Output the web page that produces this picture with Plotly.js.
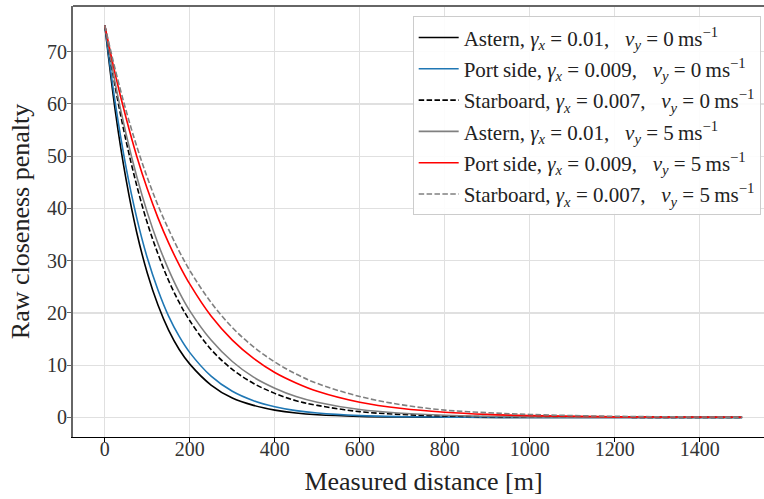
<!DOCTYPE html>
<html>
<head>
<meta charset="utf-8">
<script src="https://cdn.plot.ly/plotly-3.0.1.min.js"></script>
<style>
html, body { margin: 0; padding: 0; overflow: hidden; background: #fff; width: 764px; height: 499px; }
#chart { width: 800px; height: 499px; }
</style>
</head>
<body>
<div id="chart"></div>
<script>
// Measured distance [m] sample positions
const distance = [0, 25, 50, 75, 100, 125, 150, 175, 200, 250, 300, 350, 400, 450, 500, 600, 700, 800, 900, 1000, 1200, 1500];

// Raw closeness penalty
const asternV0    = [75, 58.4, 45.5, 35.4, 27.6, 21.5, 16.7, 13.0, 10.2, 6.2, 3.7, 2.3, 1.4, 0.83, 0.5, 0.19, 0.07, 0.03, 0.01, 0, 0, 0];
const portV0      = [75, 59.9, 47.8, 38.2, 30.5, 24.4, 19.4, 15.5, 12.4, 7.9, 5.0, 3.2, 2.05, 1.3, 0.83, 0.34, 0.14, 0.06, 0.02, 0.01, 0, 0];
const starboardV0 = [75, 63.0, 52.9, 44.4, 37.2, 31.3, 26.2, 22.0, 18.5, 13.0, 9.2, 6.5, 4.6, 3.2, 2.3, 1.1, 0.56, 0.28, 0.14, 0.07, 0.02, 0];
const asternV5    = [75, 63.7, 54.2, 46.1, 39.2, 33.3, 28.3, 24.0, 20.4, 14.8, 10.7, 7.7, 5.6, 4.0, 2.9, 1.5, 0.79, 0.41, 0.22, 0.11, 0.03, 0];
const portV5      = [75, 65.5, 57.3, 50.0, 43.7, 38.2, 33.4, 29.2, 25.5, 19.4, 14.8, 11.3, 8.6, 6.6, 5.0, 2.9, 1.7, 1.0, 0.58, 0.34, 0.11, 0.02];
const starboardV5 = [75, 66.4, 58.7, 51.9, 45.9, 40.6, 36.0, 31.8, 28.1, 22.0, 17.2, 13.5, 10.6, 8.3, 6.5, 4.0, 2.4, 1.4, 0.9, 0.56, 0.21, 0.05];

const seriesNames = [
  "Astern,\u00A0<i>γ<sub>x</sub></i>\u00A0=\u00A00.01,\u00A0\u00A0\u00A0<i>v<sub>y</sub></i>\u00A0=\u00A00\u2009ms<sup>−1</sup>",
  "Port\u2009side,\u00A0<i>γ<sub>x</sub></i>\u00A0=\u00A00.009,\u00A0\u00A0\u00A0<i>v<sub>y</sub></i>\u00A0=\u00A00\u2009ms<sup>−1</sup>",
  "Starboard,\u00A0<i>γ<sub>x</sub></i>\u00A0=\u00A00.007,\u00A0\u00A0\u00A0<i>v<sub>y</sub></i>\u00A0=\u00A00\u2009ms<sup>−1</sup>",
  "Astern,\u00A0<i>γ<sub>x</sub></i>\u00A0=\u00A00.01,\u00A0\u00A0\u00A0<i>v<sub>y</sub></i>\u00A0=\u00A05\u2009ms<sup>−1</sup>",
  "Port\u2009side,\u00A0<i>γ<sub>x</sub></i>\u00A0=\u00A00.009,\u00A0\u00A0\u00A0<i>v<sub>y</sub></i>\u00A0=\u00A05\u2009ms<sup>−1</sup>",
  "Starboard,\u00A0<i>γ<sub>x</sub></i>\u00A0=\u00A00.007,\u00A0\u00A0\u00A0<i>v<sub>y</sub></i>\u00A0=\u00A05\u2009ms<sup>−1</sup>"
];
const seriesValues = [asternV0, portV0, starboardV0, asternV5, portV5, starboardV5];
const seriesColors = ["#000000", "#1f77b4", "#000000", "#808080", "#ff0000", "#808080"];
const seriesDash = ["solid", "solid", "5.5px,2.4px", "solid", "solid", "5.5px,2.4px"];

const xTicks = [0, 200, 400, 600, 800, 1000, 1200, 1400];
const yTicks = [0, 10, 20, 30, 40, 50, 60, 70];

const FONT = "Liberation Serif, Times New Roman, serif";

const traces = seriesValues.map((vals, i) => ({
  x: distance,
  y: vals,
  type: "scatter",
  mode: "lines",
  name: seriesNames[i],
  legendgroup: "g" + i,
  line: { color: seriesColors[i], width: 1.6, dash: seriesDash[i], shape: "spline", smoothing: 1 }
}));

const layout = {
  width: 800,
  height: 499,
  margin: { l: 73, r: 26, t: 6, b: 62 },
  paper_bgcolor: "#ffffff",
  plot_bgcolor: "#ffffff",
  font: { family: FONT, color: "#333333", size: 21 },
  showlegend: true,
  xaxis: {
    range: [-75, 1575],
    tickvals: xTicks,
    ticktext: xTicks.map(String),
    showgrid: true,
    gridcolor: "#e0e0e0",
    gridwidth: 1.2,
    zeroline: false,
    showline: true,
    linecolor: "#000000",
    linewidth: 1,
    ticks: "outside",
    ticklen: 4,
    tickcolor: "#000000",
    ticklabelstandoff: -10,
    tickfont: { family: FONT, size: 20, color: "#333333" },
    title: { text: "Measured distance [m]", font: { family: FONT, size: 26, color: "#222222" }, standoff: 12 }
  },
  yaxis: {
    range: [-3.75, 78.75],
    tickvals: yTicks,
    ticktext: yTicks.map(String),
    showgrid: true,
    gridcolor: "#e0e0e0",
    gridwidth: 1.2,
    zeroline: false,
    showline: true,
    linecolor: "#666666",
    linewidth: 2,
    ticks: "outside",
    ticklen: 4,
    tickcolor: "#666666",
    ticklabelstandoff: -4,
    tickfont: { family: FONT, size: 20, color: "#333333" },
    title: { text: "Raw closeness penalty", font: { family: FONT, size: 26, color: "#222222" }, standoff: 10 }
  },
  legend: {
    x: 0.981, xanchor: "right",
    y: 0.976, yanchor: "top",
    bgcolor: "rgba(255,255,255,0.9)",
    bordercolor: "#cccccc",
    borderwidth: 1,
    font: { family: FONT, size: 21, color: "#222222" },
    tracegroupgap: 1,
    itemwidth: 40
  },
  shapes: [{
    type: "line", xref: "paper", yref: "paper",
    x0: 0, x1: 1, y0: 1, y1: 1,
    line: { color: "#666666", width: 2 }
  }]
};

Plotly.newPlot("chart", traces, layout, { displayModeBar: false, staticPlot: true });
</script>
</body>
</html>
